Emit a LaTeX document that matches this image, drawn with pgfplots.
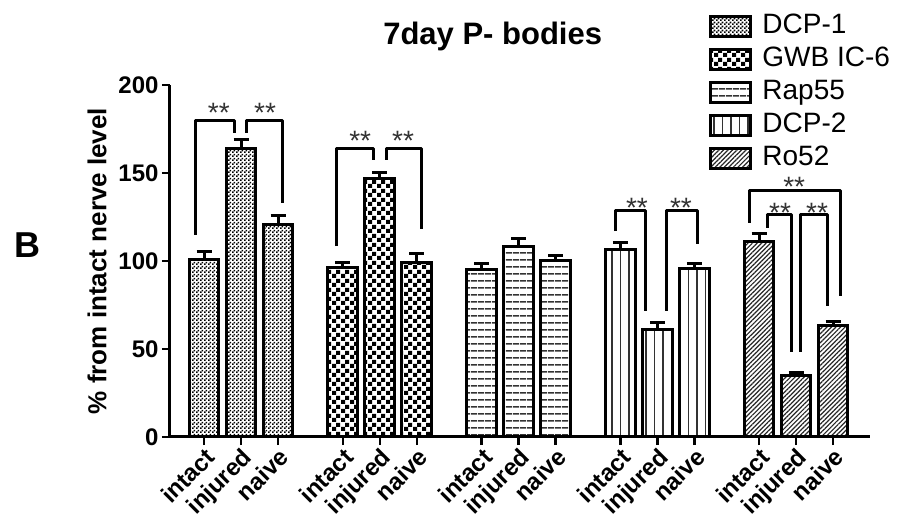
\documentclass[border=0pt]{standalone}
\usepackage{pgfplots}
\pgfplotsset{compat=1.18}
\usetikzlibrary{patterns,patterns.meta}
\usepackage{fontspec}
\setmainfont{Liberation Sans}

\tikzdeclarepattern{
  name=finecheck, type=uncolored,
  bottom left={(0pt,0pt)}, top right={(4pt,4pt)}, tile size={(4pt,4pt)},
  code={\fill (0pt,0pt) rectangle (2pt,2pt); \fill (2pt,2pt) rectangle (4pt,4pt);}
}
\tikzdeclarepattern{
  name=coarsecheck, type=uncolored,
  bottom left={(0pt,0pt)}, top right={(8.5pt,8.5pt)}, tile size={(8.5pt,8.5pt)},
  code={\fill (0pt,0pt) rectangle (4.25pt,4.25pt); \fill (4.25pt,4.25pt) rectangle (8.5pt,8.5pt);}
}

\pgfplotstableread{
x y e
0 101 4.5
1 164 5
2 121 5
}\dcpone
\pgfplotstableread{
x y e
3.75 96.5 2.5
4.75 147 3
5.75 99 5
}\gwb
\pgfplotstableread{
x y e
7.5 95 3.5
8.5 108.5 4
9.5 100 3
}\rap
\pgfplotstableread{
x y e
11.25 106.5 4
12.25 61 4
13.25 96 2.5
}\dcptwo
\pgfplotstableread{
x y e
15 111 4.5
16 35 1.5
17 63.5 2
}\ro

\pgfplotsset{
  mybar/.style={ybar, bar width=0.8, bar shift=0pt, draw=black, line width=3pt,
    error bars/y dir=plus, error bars/y explicit,
    error bars/error mark=|,
    error bars/error bar style={line width=3pt, black, solid},
    error bars/error mark options={line width=3pt, mark size=7.5pt, black, solid}},
  brk/.style={black, line width=3pt, no marks, forget plot, line join=round},
}

\begin{document}
\begin{tikzpicture}
\useasboundingbox (-170pt,-88pt) rectangle (728pt,437pt);
\begin{axis}[
  scale only axis, width=700pt, height=352pt,
  xmin=-0.92, xmax=18.0, ymin=0, ymax=200,
  axis lines=left, axis line style={-, line width=3pt},
  ytick={0,50,100,150,200},
  xtick={0,1,2,3.75,4.75,5.75,7.5,8.5,9.5,11.25,12.25,13.25,15,16,17},
  xticklabels={intact,injured,naive,intact,injured,naive,intact,injured,naive,intact,injured,naive,intact,injured,naive},
  tick align=outside, major tick length=8pt,
  every tick/.style={black, line width=2.5pt},
  tick label style={font=\fontsize{24}{28}\selectfont\bfseries},
  /pgf/number format/assume math mode=true,
  xticklabel style={rotate=45, anchor=north east, inner sep=1pt},
  ylabel={\% from intact nerve level},
  ylabel style={at={(axis description cs:-0.104,0.5)}, anchor=center, font=\fontsize{26}{30}\selectfont\bfseries},
  clip=false,
  legend style={at={(0.766,1.215)}, anchor=north west, draw=none, fill=none,
    font=\fontsize{28}{32}\selectfont, row sep=3pt,
    nodes={inner sep=2pt, text height=20pt, text depth=6pt}},
  legend cell align=left,
  legend image code/.code={\draw[#1, line width=3pt] (0pt,-10pt) rectangle (40pt,10pt); \path (48pt,0pt);},
]
\addplot[mybar, pattern=finecheck] table[x=x, y=y, y error=e] {\dcpone};
\addlegendentry{DCP-1}
\addplot[mybar, pattern=coarsecheck] table[x=x, y=y, y error=e] {\gwb};
\addlegendentry{GWB IC-6}
\addplot[mybar, pattern={Lines[angle=0,distance=6.5pt,line width=1.6pt]}, pattern color=black!80] table[x=x, y=y, y error=e] {\rap};
\addlegendentry{Rap55}
\addplot[mybar, pattern={Lines[angle=90,distance=8.5pt,line width=1.3pt]}, pattern color=black!80] table[x=x, y=y, y error=e] {\dcptwo};
\addlegendentry{DCP-2}
\addplot[mybar, pattern={Lines[angle=45,distance=3.2pt,line width=1.2pt]}, pattern color=black!85] table[x=x, y=y, y error=e] {\ro};
\addlegendentry{Ro52}

% significance brackets
\addplot[brk] coordinates {(-0.24,115) (-0.24,180) (0.81,180) (0.81,173)};
\addplot[brk] coordinates {(1.16,173) (1.16,180) (2.11,180) (2.11,133)};
\addplot[brk] coordinates {(3.59,108.5) (3.59,164) (4.57,164) (4.57,157.6)};
\addplot[brk] coordinates {(4.92,157.6) (4.92,164) (5.89,164) (5.89,118)};
\addplot[brk] coordinates {(11.11,117) (11.11,128.8) (11.92,128.8) (11.92,71.6)};
\addplot[brk] coordinates {(12.51,71.6) (12.51,128.8) (13.35,128.8) (13.35,109.5)};
\addplot[brk] coordinates {(14.73,121.8) (14.73,140.2) (17.19,140.2) (17.19,80)};
\addplot[brk] coordinates {(15.22,119) (15.22,126.5) (15.89,126.5) (15.89,48.5)};
\addplot[brk] coordinates {(16.11,48.5) (16.11,126.5) (16.86,126.5) (16.86,74.3)};

\begin{scope}[every node/.style={font=\fontsize{28}{32}\selectfont, text=black!80, anchor=base, inner sep=0pt}]
\node at (axis cs:0.40,178.5) {**};
\node at (axis cs:1.65,178.5) {**};
\node at (axis cs:4.22,162.6) {**};
\node at (axis cs:5.38,162.6) {**};
\node at (axis cs:11.70,124.8) {**};
\node at (axis cs:12.89,124.8) {**};
\node at (axis cs:15.95,136.5) {**};
\node at (axis cs:15.57,122.0) {**};
\node at (axis cs:16.57,122.0) {**};
\end{scope}

\node[font=\fontsize{31}{36}\selectfont\bfseries, anchor=base] at (axis description cs:0.461,1.114) {7day P- bodies};
\node[font=\fontsize{36}{40}\selectfont\bfseries] at (axis description cs:-0.204,0.545) {B};
\end{axis}
\end{tikzpicture}
\end{document}
